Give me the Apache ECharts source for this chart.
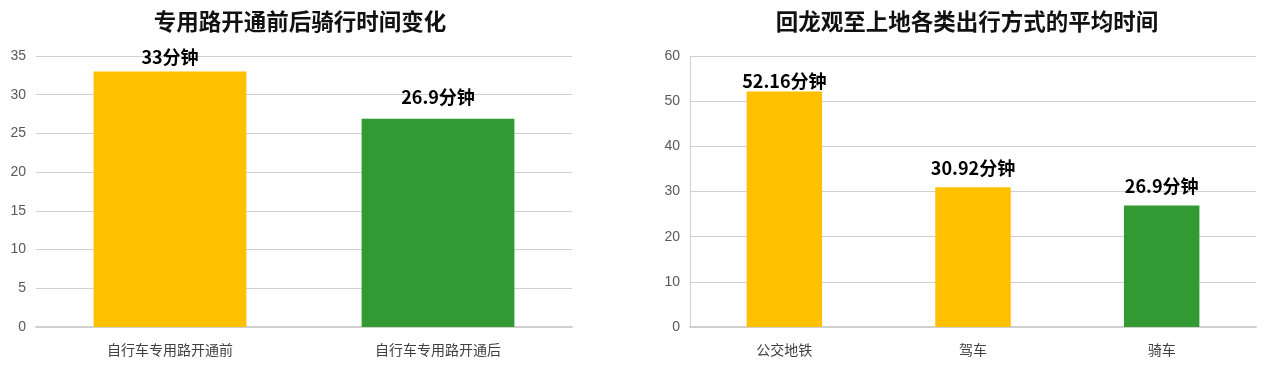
<!DOCTYPE html>
<html><head><meta charset="utf-8">
<script src="https://cdn.jsdelivr.net/npm/echarts@6/dist/echarts.min.js"></script>
<style>html,body{margin:0;padding:0;background:#fff}#c{width:1270px;height:369px}</style>
</head><body><div id="c"></div>
<script>
const title1 = '专用路开通前后骑行时间变化';
const cats1 = ['自行车专用路开通前', '自行车专用路开通后'];
const vals1 = [33, 26.9];
const labels1 = ['33分钟', '26.9分钟'];

const title2 = '回龙观至上地各类出行方式的平均时间';
const cats2 = ['公交地铁', '驾车', '骑车'];
const vals2 = [52.16, 30.92, 26.9];
const labels2 = ['52.16分钟', '30.92分钟', '26.9分钟'];

const YELLOW = '#FFC000', GREEN = '#339933';
const colors1 = [YELLOW, GREEN];
const colors2 = [YELLOW, YELLOW, GREEN];
const dist1 = [5, 13];
const dist2 = [1, 10, 10];

const font = '"Noto Sans CJK SC", "Noto Sans", sans-serif';
const numFont = '"Liberation Sans", Arial, sans-serif';
const chart = echarts.init(document.getElementById('c'), null, {renderer: 'canvas'});

function yAxis(idx, max, showLine) {
  return {
    gridIndex: idx, type: 'value', min: 0, max: max, interval: max === 35 ? 5 : 10,
    axisLine: {show: showLine, lineStyle: {color: '#d0d0d0', width: 1}},
    axisTick: {show: false},
    axisLabel: {color: '#595959', fontSize: 14, fontFamily: numFont, margin: 10},
    splitLine: {lineStyle: {color: '#d0d0d0', width: 1}}
  };
}
function xAxis(idx, cats) {
  return {
    gridIndex: idx, type: 'category', data: cats,
    axisLine: {lineStyle: {color: '#d0d0d0', width: 2}},
    axisTick: {show: false},
    axisLabel: {color: '#404040', fontSize: 14, fontFamily: font, margin: 16}
  };
}
function barData(vals, colors, labels, dists) {
  return vals.map((v, i) => ({
    value: v,
    itemStyle: {color: colors[i]},
    label: {formatter: labels[i], distance: dists[i]}
  }));
}

chart.setOption({
  animation: false,
  title: [
    {text: title1, left: 295, top: 5, textAlign: 'center',
     textStyle: {fontSize: 22.5, fontWeight: 'bold', color: '#111', fontFamily: font}},
    {text: title2, left: 962, top: 5, textAlign: 'center',
     textStyle: {fontSize: 22.5, fontWeight: 'bold', color: '#111', fontFamily: font}}
  ],
  grid: [
    {left: 36, width: 536, top: 56, height: 271},
    {left: 690, width: 566, top: 56, height: 271}
  ],
  xAxis: [xAxis(0, cats1), xAxis(1, cats2)],
  yAxis: [yAxis(0, 35, false), yAxis(1, 60, true)],
  series: [
    {type: 'bar', xAxisIndex: 0, yAxisIndex: 0, barWidth: '57%',
     data: barData(vals1, colors1, labels1, dist1),
     label: {show: true, position: 'top', fontSize: 18, fontWeight: 'bold', color: '#000', fontFamily: font}},
    {type: 'bar', xAxisIndex: 1, yAxisIndex: 1, barWidth: '40%',
     data: barData(vals2, colors2, labels2, dist2),
     label: {show: true, position: 'top', fontSize: 18, fontWeight: 'bold', color: '#000', fontFamily: font}}
  ]
});
</script></body></html>
